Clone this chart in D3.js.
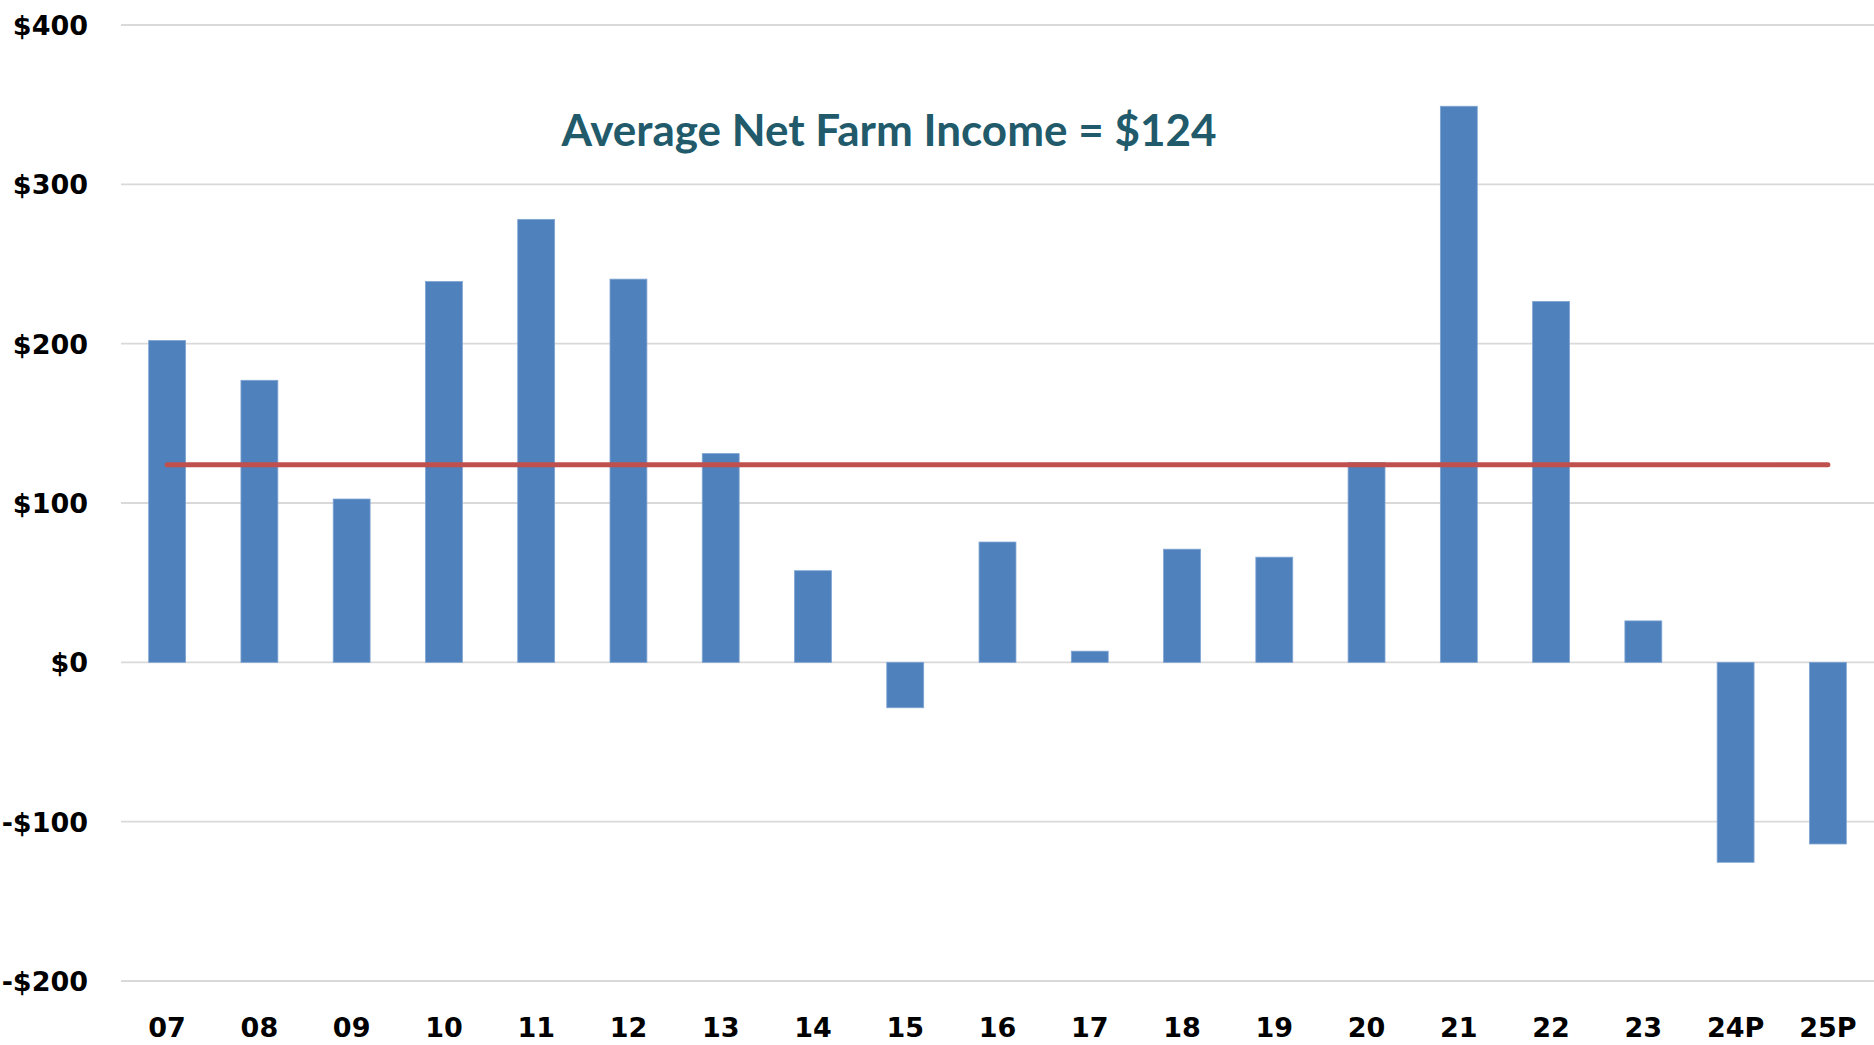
<!DOCTYPE html>
<html>
<head>
<meta charset="utf-8">
<script src="https://cdn.jsdelivr.net/npm/d3@7"></script>
<style>
    html, body { margin: 0; padding: 0; background: #fff; }
    #chart { width: 1874px; height: 1045px; }
</style>
</head>
<body>
<div id="chart"></div>
<script>
// Net farm income by year, with the average drawn across

const years = ['07', '08', '09', '10', '11', '12', '13', '14', '15', '16',
               '17', '18', '19', '20', '21', '22', '23', '24P', '25P'];
const netIncome = [202, 177, 102.5, 239, 278, 240.5, 131, 57.5, -28.5, 75.5,
                   7, 71, 66, 125.5, 349, 226.5, 26, -125.5, -114];
const averageIncome = 124;
const yTicks = [-200, -100, 0, 100, 200, 300, 400];
const titleText = 'Average Net Farm Income = $124';

class IncomeChart {
    constructor(containerId) {
        this.container = document.getElementById(containerId);
        this.width = 1874;
        this.height = 1045;
        this.margin = { top: 25, right: 0, bottom: 64, left: 121 };
        this.init();
    }

    init() {
        this.svg = d3.select(this.container)
            .append('svg')
            .attr('width', this.width)
            .attr('height', this.height)
            .attr('viewBox', [0, 0, this.width, this.height]);

        this.x = d3.scaleBand()
            .domain(years)
            .range([this.margin.left, this.width - this.margin.right])
            .paddingInner(0.6)
            .paddingOuter(0.3);

        this.y = d3.scaleLinear()
            .domain([-200, 400])
            .range([this.height - this.margin.bottom, this.margin.top]);
    }

    render() {
        const x = this.x, y = this.y;

        // Gridlines
        this.svg.append('g')
            .selectAll('line')
            .data(yTicks)
            .enter().append('line')
            .attr('x1', this.margin.left)
            .attr('x2', this.width - this.margin.right)
            .attr('y1', d => y(d))
            .attr('y2', d => y(d))
            .attr('stroke', '#d9d9d9')
            .attr('stroke-width', 1.8);

        // Y labels
        this.svg.append('g')
            .selectAll('text')
            .data(yTicks)
            .enter().append('text')
            .attr('x', 88)
            .attr('y', d => y(d))
            .attr('dy', '0.37em')
            .attr('text-anchor', 'end')
            .attr('font-family', 'DejaVu Sans')
            .attr('font-weight', 'bold')
            .attr('font-size', 27)
            .attr('fill', '#000')
            .text(d => (d < 0 ? '-$' : '$') + Math.abs(d));

        // Bars
        this.svg.append('g')
            .selectAll('rect')
            .data(netIncome)
            .enter().append('rect')
            .attr('x', (d, i) => x(years[i]))
            .attr('width', x.bandwidth())
            .attr('y', d => y(Math.max(0, d)))
            .attr('height', d => Math.abs(y(d) - y(0)))
            .attr('fill', '#4f81bd')
            .attr('stroke', '#7fa4d3')
            .attr('stroke-width', 0.8);

        // Average line
        const avgLine = d3.line()
            .x(d => x(d) + x.bandwidth() / 2)
            .y(() => y(averageIncome));

        this.svg.append('path')
            .datum([years[0], years[years.length - 1]])
            .attr('d', avgLine)
            .attr('fill', 'none')
            .attr('stroke', '#c0504d')
            .attr('stroke-width', 5)
            .attr('stroke-linecap', 'round');

        // X labels
        this.svg.append('g')
            .selectAll('text')
            .data(years)
            .enter().append('text')
            .attr('x', d => x(d) + x.bandwidth() / 2)
            .attr('y', 1037)
            .attr('text-anchor', 'middle')
            .attr('font-family', 'DejaVu Sans')
            .attr('font-weight', 'bold')
            .attr('font-size', 27)
            .attr('fill', '#000')
            .text(d => d);

        // Title
        this.svg.append('text')
            .attr('x', 889)
            .attr('y', 146)
            .attr('text-anchor', 'middle')
            .attr('font-family', 'Lato')
            .attr('font-weight', 'bold')
            .attr('font-size', 44)
            .attr('fill', '#215a6a')
            .text(titleText);
    }
}

const chart = new IncomeChart('chart');
chart.render();
</script>
</body>
</html>
